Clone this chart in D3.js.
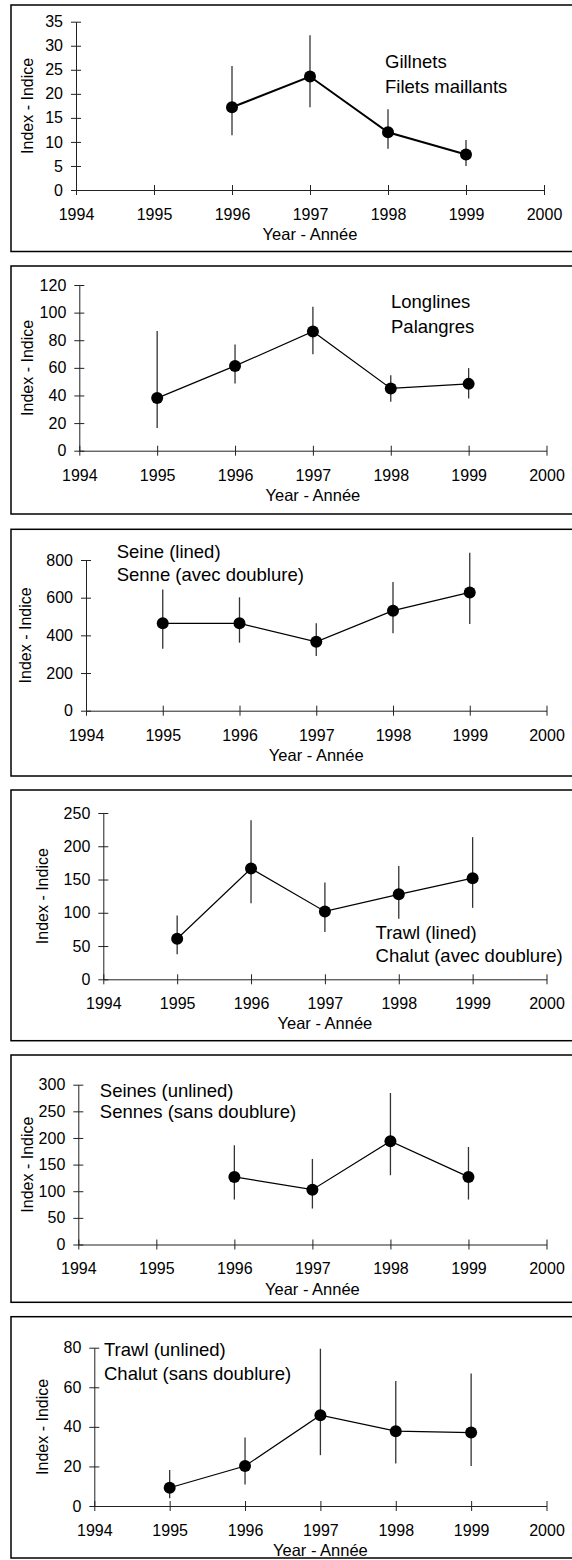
<!DOCTYPE html>
<html>
<head>
<meta charset="utf-8">
<script src="https://cdn.jsdelivr.net/npm/d3@7"></script>
<style>
  body { margin: 0; background: #fff; }
  text { font-family: "Liberation Sans", Arial, sans-serif; }
</style>
</head>
<body>
<script>
// years on the x axis
const xTicks = [1994, 1995, 1996, 1997, 1998, 1999, 2000];
const years = [1995, 1996, 1997, 1998, 1999];

// index values and error bar ends, one set per gear
const gillnetIndex = [null, 17.2, 23.6, 12.0, 7.4];
const gillnetLow   = [null, 11.4, 17.2, 8.6, 5.0];
const gillnetHigh  = [null, 25.8, 32.2, 16.8, 10.4];

const longlineIndex = [38.1, 61.4, 86.3, 45.1, 48.4];
const longlineLow   = [16.4, 48.7, 69.9, 35.4, 37.8];
const longlineHigh  = [86.7, 76.9, 104.3, 54.7, 59.8];

const seineLinedIndex = [464, 464, 366, 531, 628];
const seineLinedLow   = [329, 361, 290, 411, 460];
const seineLinedHigh  = [644, 602, 464, 683, 839];

const trawlLinedIndex = [61, 166.5, 102, 127.7, 152];
const trawlLinedLow   = [37.8, 114.3, 71, 91, 107.4];
const trawlLinedHigh  = [95.9, 239, 145.6, 170.5, 213.7];

const seineUnlinedIndex = [null, 126.9, 103, 193.8, 126.9];
const seineUnlinedLow   = [null, 84.4, 67.5, 130, 84.4];
const seineUnlinedHigh  = [null, 186.3, 160.6, 284.4, 183];

const trawlUnlinedIndex = [9.2, 20.2, 45.9, 37.8, 37.1];
const trawlUnlinedLow   = [3.9, 10.9, 25.7, 21.5, 20.2];
const trawlUnlinedHigh  = [18.2, 34.6, 79.5, 63.2, 66.9];

// y axis ranges and tick steps
const yMax  = [35, 120, 800, 250, 300, 80];
const yStep = [5, 20, 200, 50, 50, 20];

const gearLabels = [
  ['Gillnets', 'Filets maillants'],
  ['Longlines', 'Palangres'],
  ['Seine (lined)', 'Senne (avec doublure)'],
  ['Trawl (lined)', 'Chalut (avec doublure)'],
  ['Seines (unlined)', 'Sennes (sans doublure)'],
  ['Trawl (unlined)', 'Chalut (sans doublure)']
];

const series = [
  [gillnetIndex, gillnetLow, gillnetHigh],
  [longlineIndex, longlineLow, longlineHigh],
  [seineLinedIndex, seineLinedLow, seineLinedHigh],
  [trawlLinedIndex, trawlLinedLow, trawlLinedHigh],
  [seineUnlinedIndex, seineUnlinedLow, seineUnlinedHigh],
  [trawlUnlinedIndex, trawlUnlinedLow, trawlUnlinedHigh]
];

// layout of each panel (pixels)
const layout = [
  { top: 5,     bottom: 251.5, axisX: 76,   xEnd: 544,   yTop: 21.7,   yBottom: 190,    titleX: 27,   labelX: 385,   labelY: 68,    gap: 24.5, lineW: 2 },
  { top: 266,   bottom: 514,   axisX: 79.3, xEnd: 546.5, yTop: 285,    yBottom: 450.7,  titleX: 27.5, labelX: 391,   labelY: 308.4, gap: 24.3, lineW: 1.2 },
  { top: 529.3, bottom: 776,   axisX: 86,   xEnd: 546.5, yTop: 560,    yBottom: 710.7,  titleX: 25.5, labelX: 116.7, labelY: 557.5, gap: 23.3, lineW: 1.2 },
  { top: 790,   bottom: 1040.7,axisX: 103.3,xEnd: 546.5, yTop: 813,    yBottom: 979.3,  titleX: 42,   labelX: 375.6, labelY: 938.8, gap: 23.2, lineW: 1.2 },
  { top: 1055,  bottom: 1302.3,axisX: 78.3, xEnd: 546.5, yTop: 1084.7, yBottom: 1244.5, titleX: 27.5, labelX: 99.8,  labelY: 1097,  gap: 21,   lineW: 1.2 },
  { top: 1316.7,bottom: 1558,  axisX: 94.3, xEnd: 546.5, yTop: 1347.7, yBottom: 1506,   titleX: 42,   labelX: 104,   labelY: 1356,  gap: 24.4, lineW: 1.2 }
];

const svg = d3.select('body').append('svg')
    .attr('width', 572)
    .attr('height', 1560);

layout.forEach((L, i) => {
  const g = svg.append('g');
  const [vals, lows, highs] = series[i];
  const pts = years.map((yr, j) => ({ year: yr, v: vals[j], lo: lows[j], hi: highs[j] }))
      .filter(d => d.v != null);

  // frame (right side runs off the page like the original)
  g.append('rect')
      .attr('x', 11)
      .attr('y', L.top)
      .attr('width', 620)
      .attr('height', L.bottom - L.top)
      .attr('fill', 'none')
      .attr('stroke', '#000')
      .attr('stroke-width', 1.5);

  const x = d3.scaleLinear().domain([1994, 2000]).range([L.axisX, L.xEnd]);
  const y = d3.scaleLinear().domain([0, yMax[i]]).range([L.yBottom, L.yTop]);

  const xAxis = d3.axisBottom(x)
      .tickValues(xTicks)
      .tickFormat(d3.format('d'))
      .tickSize(5)
      .tickSizeOuter(0)
      .tickPadding(13.5);

  const yAxis = d3.axisLeft(y)
      .tickValues(d3.range(0, yMax[i] + yStep[i] / 2, yStep[i]))
      .tickSize(5)
      .tickSizeOuter(0)
      .tickPadding(8);

  const gx = g.append('g')
      .attr('transform', `translate(0,${L.yBottom})`)
      .call(xAxis);
  gx.selectAll('.tick line').attr('y1', -5);

  const gy = g.append('g')
      .attr('transform', `translate(${L.axisX},0)`)
      .call(yAxis);
  gy.selectAll('.tick line').attr('x1', 5);

  [gx, gy].forEach(a => {
    a.attr('font-size', 16).attr('font-family', '"Liberation Sans", Arial, sans-serif');
    a.selectAll('path, line').attr('stroke', '#222');
    a.selectAll('text').attr('fill', '#000');
  });

  // error bars
  g.selectAll('line.err')
      .data(pts)
      .join('line')
      .classed('err', true)
      .attr('x1', d => x(d.year))
      .attr('x2', d => x(d.year))
      .attr('y1', d => y(d.lo))
      .attr('y2', d => y(d.hi))
      .attr('stroke', '#333')
      .attr('stroke-width', 1.3);

  // connecting line
  g.append('path')
      .datum(pts)
      .attr('fill', 'none')
      .attr('stroke', '#000')
      .attr('stroke-width', L.lineW)
      .attr('d', d3.line().x(d => x(d.year)).y(d => y(d.v)));

  g.selectAll('circle.dot')
      .data(pts)
      .join('circle')
      .classed('dot', true)
      .attr('cx', d => x(d.year))
      .attr('cy', d => y(d.v))
      .attr('r', 6)
      .attr('fill', '#000');

  // axis titles
  g.append('text')
      .attr('transform', `translate(${L.titleX},${(L.yTop + L.yBottom) / 2}) rotate(-90)`)
      .attr('text-anchor', 'middle')
      .attr('dy', '0.35em')
      .attr('font-size', 16)
      .text('Index - Indice');

  g.append('text')
      .attr('x', (L.axisX + L.xEnd) / 2)
      .attr('y', L.yBottom + 50)
      .attr('text-anchor', 'middle')
      .attr('font-size', 16.5)
      .text('Year - Année');

  // gear label
  g.selectAll('text.gear')
      .data(gearLabels[i])
      .join('text')
      .classed('gear', true)
      .attr('x', L.labelX)
      .attr('y', (d, k) => L.labelY + k * L.gap)
      .attr('font-size', 18.5)
      .text(d => d);
});
</script>
</body>
</html>
